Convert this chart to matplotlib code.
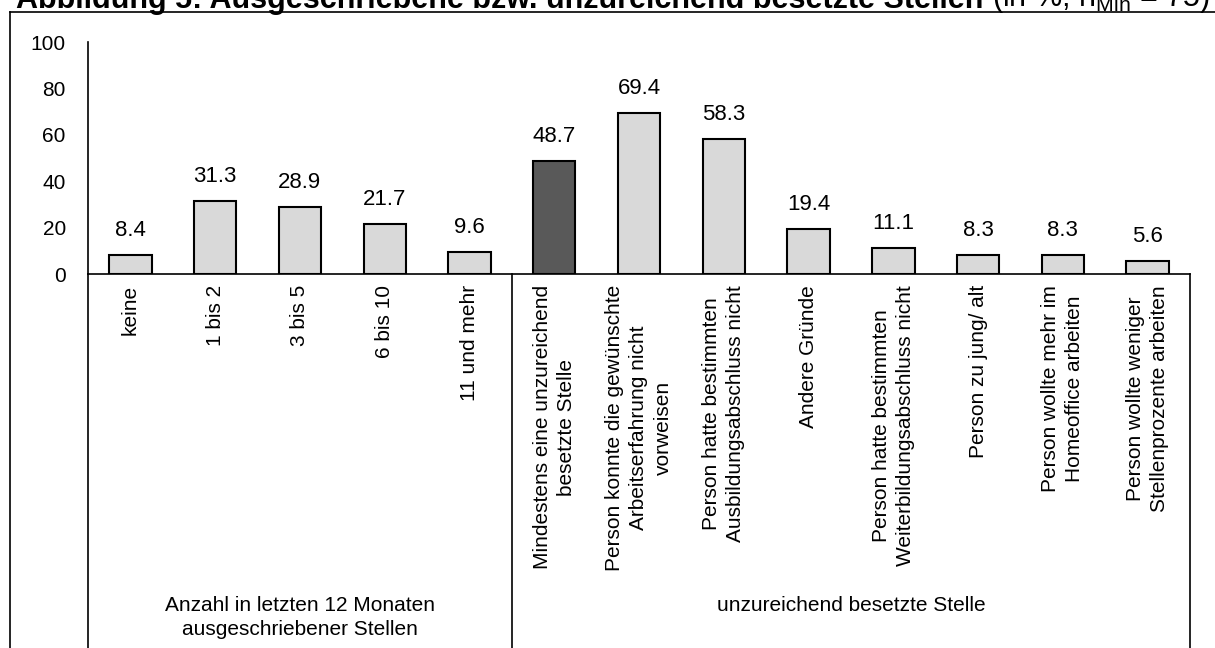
import matplotlib
matplotlib.use("Agg")
import matplotlib.pyplot as plt
from matplotlib.lines import Line2D
from matplotlib.transforms import blended_transform_factory

plt.rcParams['font.family'] = ['Liberation Sans', 'DejaVu Sans']

# Data
categories = [
    "keine",
    "1 bis 2",
    "3 bis 5",
    "6 bis 10",
    "11 und mehr",
    "Mindestens eine unzureichend\nbesetzte Stelle",
    "Person konnte die gewünschte\nArbeitserfahrung nicht\nvorweisen",
    "Person hatte bestimmten\nAusbildungsabschluss nicht",
    "Andere Gründe",
    "Person hatte bestimmten\nWeiterbildungsabschluss nicht",
    "Person zu jung/ alt",
    "Person wollte mehr im\nHomeoffice arbeiten",
    "Person wollte weniger\nStellenprozente arbeiten",
]
values = [8.4, 31.3, 28.9, 21.7, 9.6, 48.7, 69.4, 58.3, 19.4, 11.1, 8.3, 8.3, 5.6]
group_labels = ["Anzahl in letzten 12 Monaten\nausgeschriebener Stellen",
                "unzureichend besetzte Stelle"]
group_sizes = [5, 8]
highlight_index = 5
y_ticks = [0, 20, 40, 60, 80, 100]
title_main = "Abbildung 5: Ausgeschriebene bzw. unzureichend besetzte Stellen "
title_note = r"(in %, n$_{\mathregular{Min}}$ = 75)"

W, H = 1215, 648
fig = plt.figure(figsize=(W / 100, H / 100), dpi=100)
ax = fig.add_axes([88 / W, 374 / H, (1190 - 88) / W, 232 / H])

xs = list(range(len(values)))
colors = ['#595959' if i == highlight_index else '#d9d9d9' for i in xs]
ax.bar(xs, values, width=0.5, color=colors, edgecolor='black',
       linewidth=1.5, zorder=3)

for xi, v in zip(xs, values):
    ax.annotate(f"{v:.1f}", (xi, v), xytext=(0, 10), textcoords='offset points',
                ha='center', va='bottom', fontsize=16)

ax.set_xlim(-0.5, len(values) - 0.5)
ax.set_ylim(0, 100)
ax.set_yticks(y_ticks)
ax.tick_params(axis='y', length=0, pad=16, labelsize=15)
ax.set_xticks(xs)
ax.set_xticklabels(categories, rotation=90, fontsize=15)
ax.tick_params(axis='x', length=0, pad=8)
for lbl in ax.get_xticklabels():
    lbl.set_multialignment('center')
    lbl.set_linespacing(1.35)

for side in ('top', 'right'):
    ax.spines[side].set_visible(False)
for side in ('left', 'bottom'):
    ax.spines[side].set_linewidth(1.2)

# Group boundaries below the category axis
trans = blended_transform_factory(ax.transData, fig.transFigure)
bounds = [-0.5]
for n in group_sizes:
    bounds.append(bounds[-1] + n)
for b in bounds:
    ax.add_line(Line2D([b, b], [0, 374 / H], transform=trans, color='black',
                       lw=1.2, clip_on=False))

# Group labels
start = -0.5
for lab, n in zip(group_labels, group_sizes):
    center = start + n / 2
    ax.text(center, (H - 596) / H, lab, transform=trans, ha='center', va='top',
            multialignment='center', linespacing=1.35, fontsize=15)
    start += n

# Outer chart-area frame
fig.add_artist(Line2D([10 / W, 10 / W], [0, (H - 12) / H],
                      transform=fig.transFigure, color='black', lw=1.2))
fig.add_artist(Line2D([10 / W, 1], [(H - 12) / H, (H - 12) / H],
                      transform=fig.transFigure, color='black', lw=1.2))

# Title
t1 = fig.text(16 / W, (H - 8) / H, title_main, fontsize=22, fontweight='bold',
              ha='left', va='baseline')
ax.annotate(title_note, xy=(1, 0), xycoords=t1, ha='left', va='bottom',
            fontsize=22, annotation_clip=False)

fig.savefig("out.png", dpi=100)
